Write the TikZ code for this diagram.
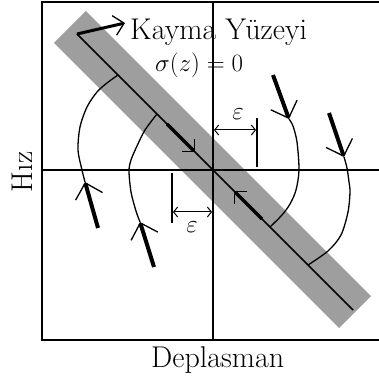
\documentclass[tikz,border=0pt]{standalone}
\usepackage{tikz}
\usetikzlibrary{arrows.meta}
\definecolor{bandgray}{HTML}{9E9E9E}

\begin{document}
\begin{tikzpicture}[x=1pt,y=1pt,
  lbl/.style={font=\fontsize{30}{32}\selectfont,inner sep=0pt},
  traj/.style={line width=1.3pt},
  push/.style={line width=4pt,-{Straight Barb[length=14pt,width=28pt,line width=1.3pt]}},
  slide/.style={line width=3.5pt,-{Straight Barb[length=8.5pt,width=17pt,line width=1.3pt]}},
  gap/.style={line width=1pt,{Straight Barb[length=4pt,width=10pt]}-{Straight Barb[length=4pt,width=10pt]}}]
\useasboundingbox (0,0) rectangle (379,382);
\draw[line width=45pt,bandgray] (70,355)--(355,70);
\draw[line width=2pt] (379,380)--(42,380)--(42,42)--(379,42);
\draw[line width=1.6pt] (213,42)--(213,380) (42,212)--(379,212);
\coordinate (stop) at (77,348); \coordinate (sbot) at (353,72);
\draw[line width=1.5pt] (stop)--(sbot);
\coordinate (ktip) at (125,359);
\draw[line width=3pt,-{Straight Barb[length=10pt,width=20pt,line width=1.3pt]}] (stop)--(ktip);
\draw[slide] (167,258)--(195,230);
\draw[slide] (262,163)--(234,191);
\draw[traj] plot[smooth] coordinates {(85,200) (82,212) (78,232) (80,255) (87,275) (97,290) (107,299) (118,307)};
\draw[traj] plot[smooth] coordinates {(140,160) (136,171) (131,190) (129,211) (131,222) (137,236) (145,252) (157,268)};
\draw[traj] plot[smooth] coordinates {(289,263) (293,256) (297,240) (299,212) (296,192) (290,178) (282,167) (270,155)};
\draw[traj] plot[smooth] coordinates {(344,225) (347,214) (349,200) (350,190) (348,170) (341,147) (328,131) (308,117)};
\foreach \xa/\ya/\xb/\yb in {98/154/85/200, 154/115/140/160, 273/307/289/263, 329/269/344/225}
  \draw[push] (\xa,\ya)--(\xb,\yb);
\draw[line width=1.5pt] (257,264)--(257,215);
\draw[gap] (214,252)--(256,252);
\draw[line width=1.5pt] (172,209)--(172,159);
\draw[gap] (173,170)--(212,170);
\node[lbl] (epsup) at (238,268) {$\varepsilon$};
\node[lbl] (epsdn) at (192,155) {$\varepsilon$};
\node[lbl,anchor=base west] (kayma) at (130,342) {Kayma Y\"uzeyi};
\node[lbl,anchor=base west] (sigma) at (155,310) {$\sigma(z) = 0$};
\node[lbl,anchor=base west] (depl) at (151,14) {Deplasman};
\node[lbl,rotate=90] (hiz) at (22,210) {H\i z};
\end{tikzpicture}
\end{document}
